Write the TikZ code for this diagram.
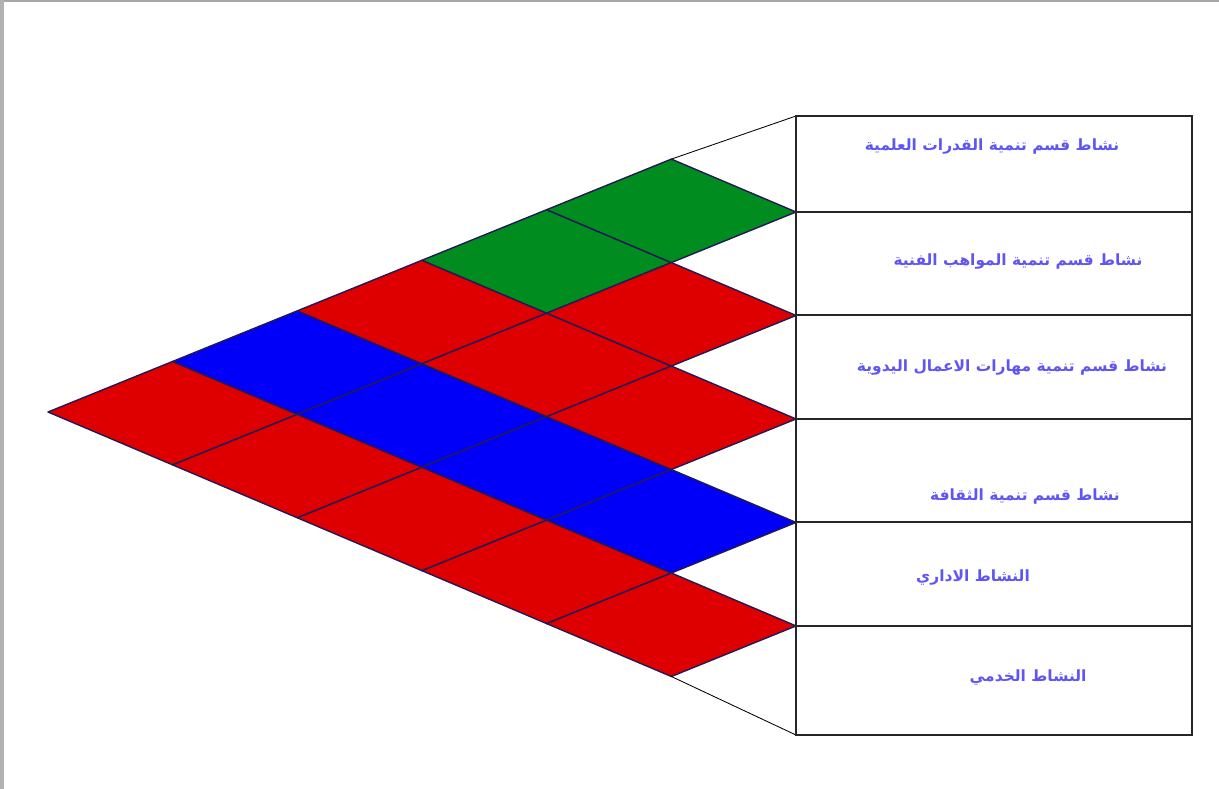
\documentclass[tikz,border=0pt]{standalone}
\usepackage{fontspec}
\usepackage{tikz}
\usepackage{xcolor}
\newfontfamily\arabicfont[Script=Arabic]{DejaVu Sans}
\TeXXeTstate=1
\usetikzlibrary{calc}
\definecolor{cRed}{RGB}{222,0,0}
\definecolor{cBlue}{RGB}{0,0,250}
\definecolor{cGreen}{RGB}{0,140,30}
\definecolor{cEdge}{RGB}{35,25,85}
\definecolor{cLabel}{RGB}{95,85,245}
\tikzset{
	cell/.style    ={draw=cEdge, line width=1pt, line join=round},
	boxline/.style ={draw=black!85, line width=1.4pt},
	thinline/.style={draw=black, line width=0.6pt},
	lbl/.style     ={font=\arabicfont\bfseries\fontsize{11}{13}\selectfont, text=cLabel, inner sep=0pt},
}
\begin{document}
\begin{tikzpicture}[x=0.025cm, y=-0.025cm]
	\useasboundingbox (0,0) rectangle (1219,789);
	% screen shadow
	\fill[black!35] (0,0) rectangle (1219,2);
	\fill[black!30] (0,0) rectangle (4,789);
	% lattice points
	\foreach \i in {0,...,6}
		\foreach \j in {0,...,6}
			\coordinate (p\i-\j) at ({48+124.67*(\i+\j)},{412-50.58*\i+52.9*\j});
	% cells
	\foreach \i/\j/\c in {0/0/cRed, 1/0/cBlue, 2/0/cRed, 3/0/cGreen, 4/0/cGreen,
		0/1/cRed, 1/1/cBlue, 2/1/cRed, 3/1/cRed,
		0/2/cRed, 1/2/cBlue, 2/2/cRed,
		0/3/cRed, 1/3/cBlue,
		0/4/cRed}{
		\pgfmathtruncatemacro\ii{\i+1}
		\pgfmathtruncatemacro\jj{\j+1}
		\filldraw[cell, fill=\c] (p\i-\j) -- (p\ii-\j) -- (p\ii-\jj) -- (p\i-\jj) -- cycle;
	}
	% boxes
	\coordinate (bTL) at (796,116);
	\coordinate (bBL) at (796,735);
	\coordinate (bBR) at (1192,735);
	\draw[thinline] (p5-0) -- (bTL);
	\draw[thinline] (p0-5) -- (bBL);
	\draw[boxline] (bTL) rectangle (bBR);
	\foreach \i/\j in {5/1, 4/2, 3/3, 2/4, 1/5}
		\draw[boxline] (p\i-\j) -- ++(396,0);
	% labels
	\node[lbl] (t1) at (992,147) {\beginR نشاط قسم تنمية القدرات العلمية\endR};
	\node[lbl] (t2) at (1018,262) {\beginR نشاط قسم تنمية المواهب الفنية\endR};
	\node[lbl] (t3) at (1012,368) {\beginR نشاط قسم تنمية مهارات الاعمال اليدوية\endR};
	\node[lbl] (t4) at (1025,497) {\beginR نشاط قسم تنمية الثقافة\endR};
	\node[lbl] (t5) at (973,578) {\beginR النشاط الاداري\endR};
	\node[lbl] (t6) at (1028,678) {\beginR النشاط الخدمي\endR};
\end{tikzpicture}
\end{document}
